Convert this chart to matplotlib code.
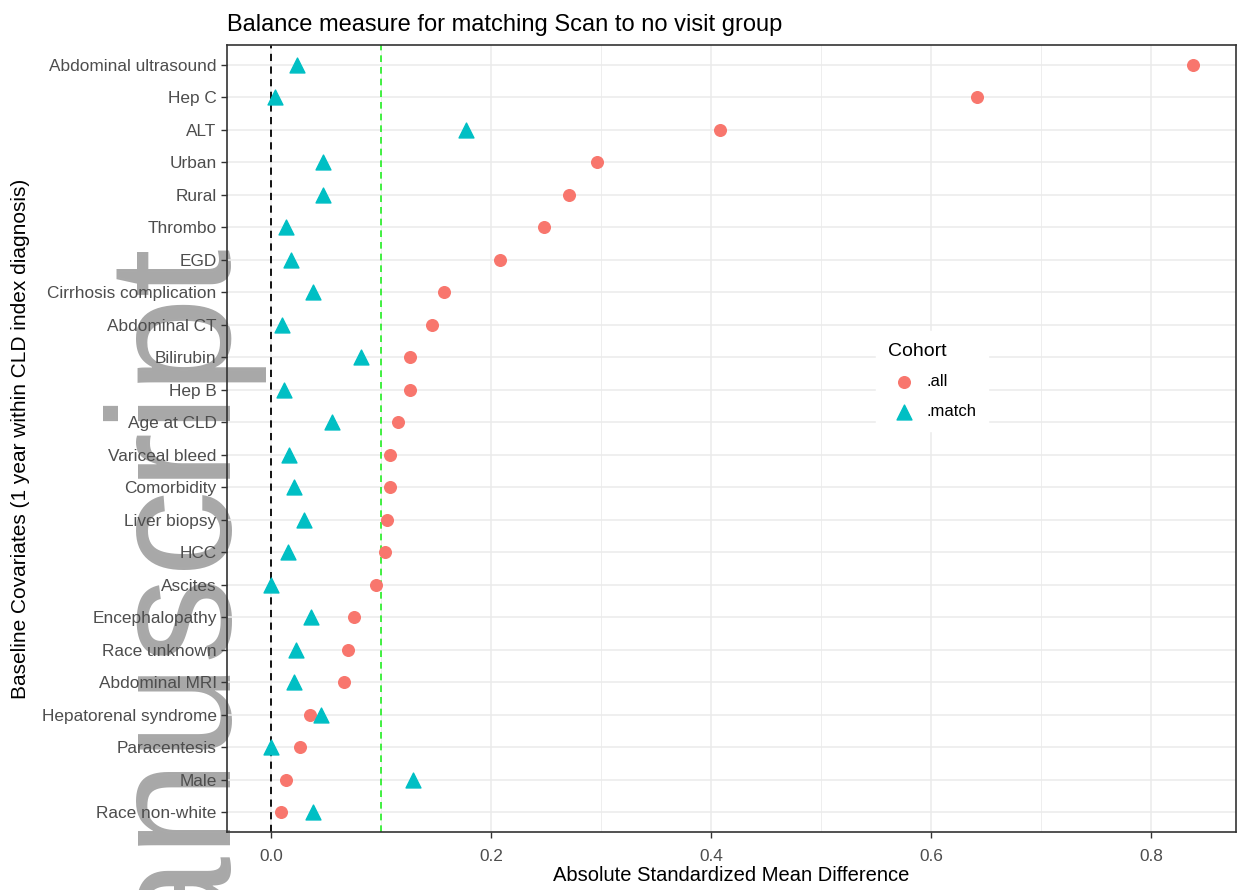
import matplotlib.pyplot as plt

plt.rcParams['font.family'] = ['Liberation Sans', 'DejaVu Sans']

covariates = ["Abdominal ultrasound", "Hep C", "ALT", "Urban", "Rural", "Thrombo", "EGD",
              "Cirrhosis complication", "Abdominal CT", "Bilirubin", "Hep B", "Age at CLD",
              "Variceal bleed", "Comorbidity", "Liver biopsy", "HCC", "Ascites",
              "Encephalopathy", "Race unknown", "Abdominal MRI", "Hepatorenal syndrome",
              "Paracentesis", "Male", "Race non-white"]
smd_all = [0.838, 0.642, 0.408, 0.296, 0.271, 0.248, 0.208, 0.157, 0.146, 0.126, 0.126, 0.115,
           0.108, 0.108, 0.105, 0.104, 0.095, 0.075, 0.070, 0.066, 0.035, 0.026, 0.014, 0.009]
smd_match = [0.024, 0.004, 0.177, 0.047, 0.047, 0.014, 0.018, 0.038, 0.010, 0.082, 0.012, 0.055,
             0.016, 0.021, 0.030, 0.015, 0.000, 0.036, 0.023, 0.021, 0.045, 0.000, 0.129, 0.038]
x_ticks = [0.0, 0.2, 0.4, 0.6, 0.8]
x_tick_labels = ["0.0", "0.2", "0.4", "0.6", "0.8"]
threshold = 0.1

fig = plt.figure(figsize=(12.38, 8.90), dpi=100)
ax = fig.add_axes([227 / 1238, 1 - 832 / 890, (1236 - 227) / 1238, (832 - 45) / 890])
ax.set_facecolor('none')

n = len(covariates)
ypos = list(range(n - 1, -1, -1))

for s in ax.spines.values():
    s.set_color('#333333')
    s.set_linewidth(1.2)

ax.set_axisbelow(True)
ax.set_xticks([0.1, 0.3, 0.5, 0.7], minor=True)
ax.grid(True, which='major', color='#EBEBEB', linewidth=1.1)
ax.grid(True, which='minor', axis='x', color='#EBEBEB', linewidth=0.6)

ax.axvline(0, color='black', linestyle=(0, (4, 3)), linewidth=1.3, zorder=2)
ax.axvline(threshold, color='#22EE22', linestyle=(0, (4, 3)), linewidth=1.2, zorder=2)

ax.scatter(smd_all, ypos, marker='o', s=70, color='#F8766D', label='.all', zorder=3)
ax.scatter(smd_match, ypos, marker='^', s=115, color='#00BFC4', label='.match', zorder=3)

ax.set_yticks(ypos)
ax.set_yticklabels(covariates)
ax.set_xticks(x_ticks)
ax.set_xticklabels(x_tick_labels)
ax.set_ylim(-0.6, n - 1 + 0.6)
ax.set_xlim(-0.04, (1236 - 271) / 1100)
ax.tick_params(axis='both', which='major', labelsize=12.4, labelcolor='#4D4D4D',
               color='#333333', length=4, width=1)
ax.tick_params(axis='x', which='major', pad=8)
ax.tick_params(axis='x', which='minor', length=0)

ax.set_xlabel('Absolute Standardized Mean Difference', fontsize=14.5, color='black', labelpad=2)
ax.set_ylabel('Baseline Covariates (1 year within CLD index diagnosis)', fontsize=15,
              color='black', labelpad=8)
ax.set_title('Balance measure for matching Scan to no visit group', fontsize=17,
             loc='left', pad=10)

leg = ax.legend(title='Cohort', loc='center', bbox_to_anchor=(932 / 1238, 1 - 381 / 890),
                bbox_transform=fig.transFigure, frameon=True, fontsize=12,
                title_fontsize=14, handletextpad=0.3, labelspacing=0.9, borderpad=0.7)
leg.get_frame().set_edgecolor('white')
leg.get_frame().set_facecolor('white')
leg.get_frame().set_alpha(1)
leg._legend_box.align = 'left'

# watermark, drawn under the axes content
fig.text(231 / 1238, 1 - 248 / 890, 'Author Manuscript', rotation=90, rotation_mode='anchor',
         ha='right', va='baseline', fontsize=125, color='#A8A8A8',
         family=['Liberation Sans', 'DejaVu Sans'], zorder=-1)

fig.savefig('out.png', dpi=100)
